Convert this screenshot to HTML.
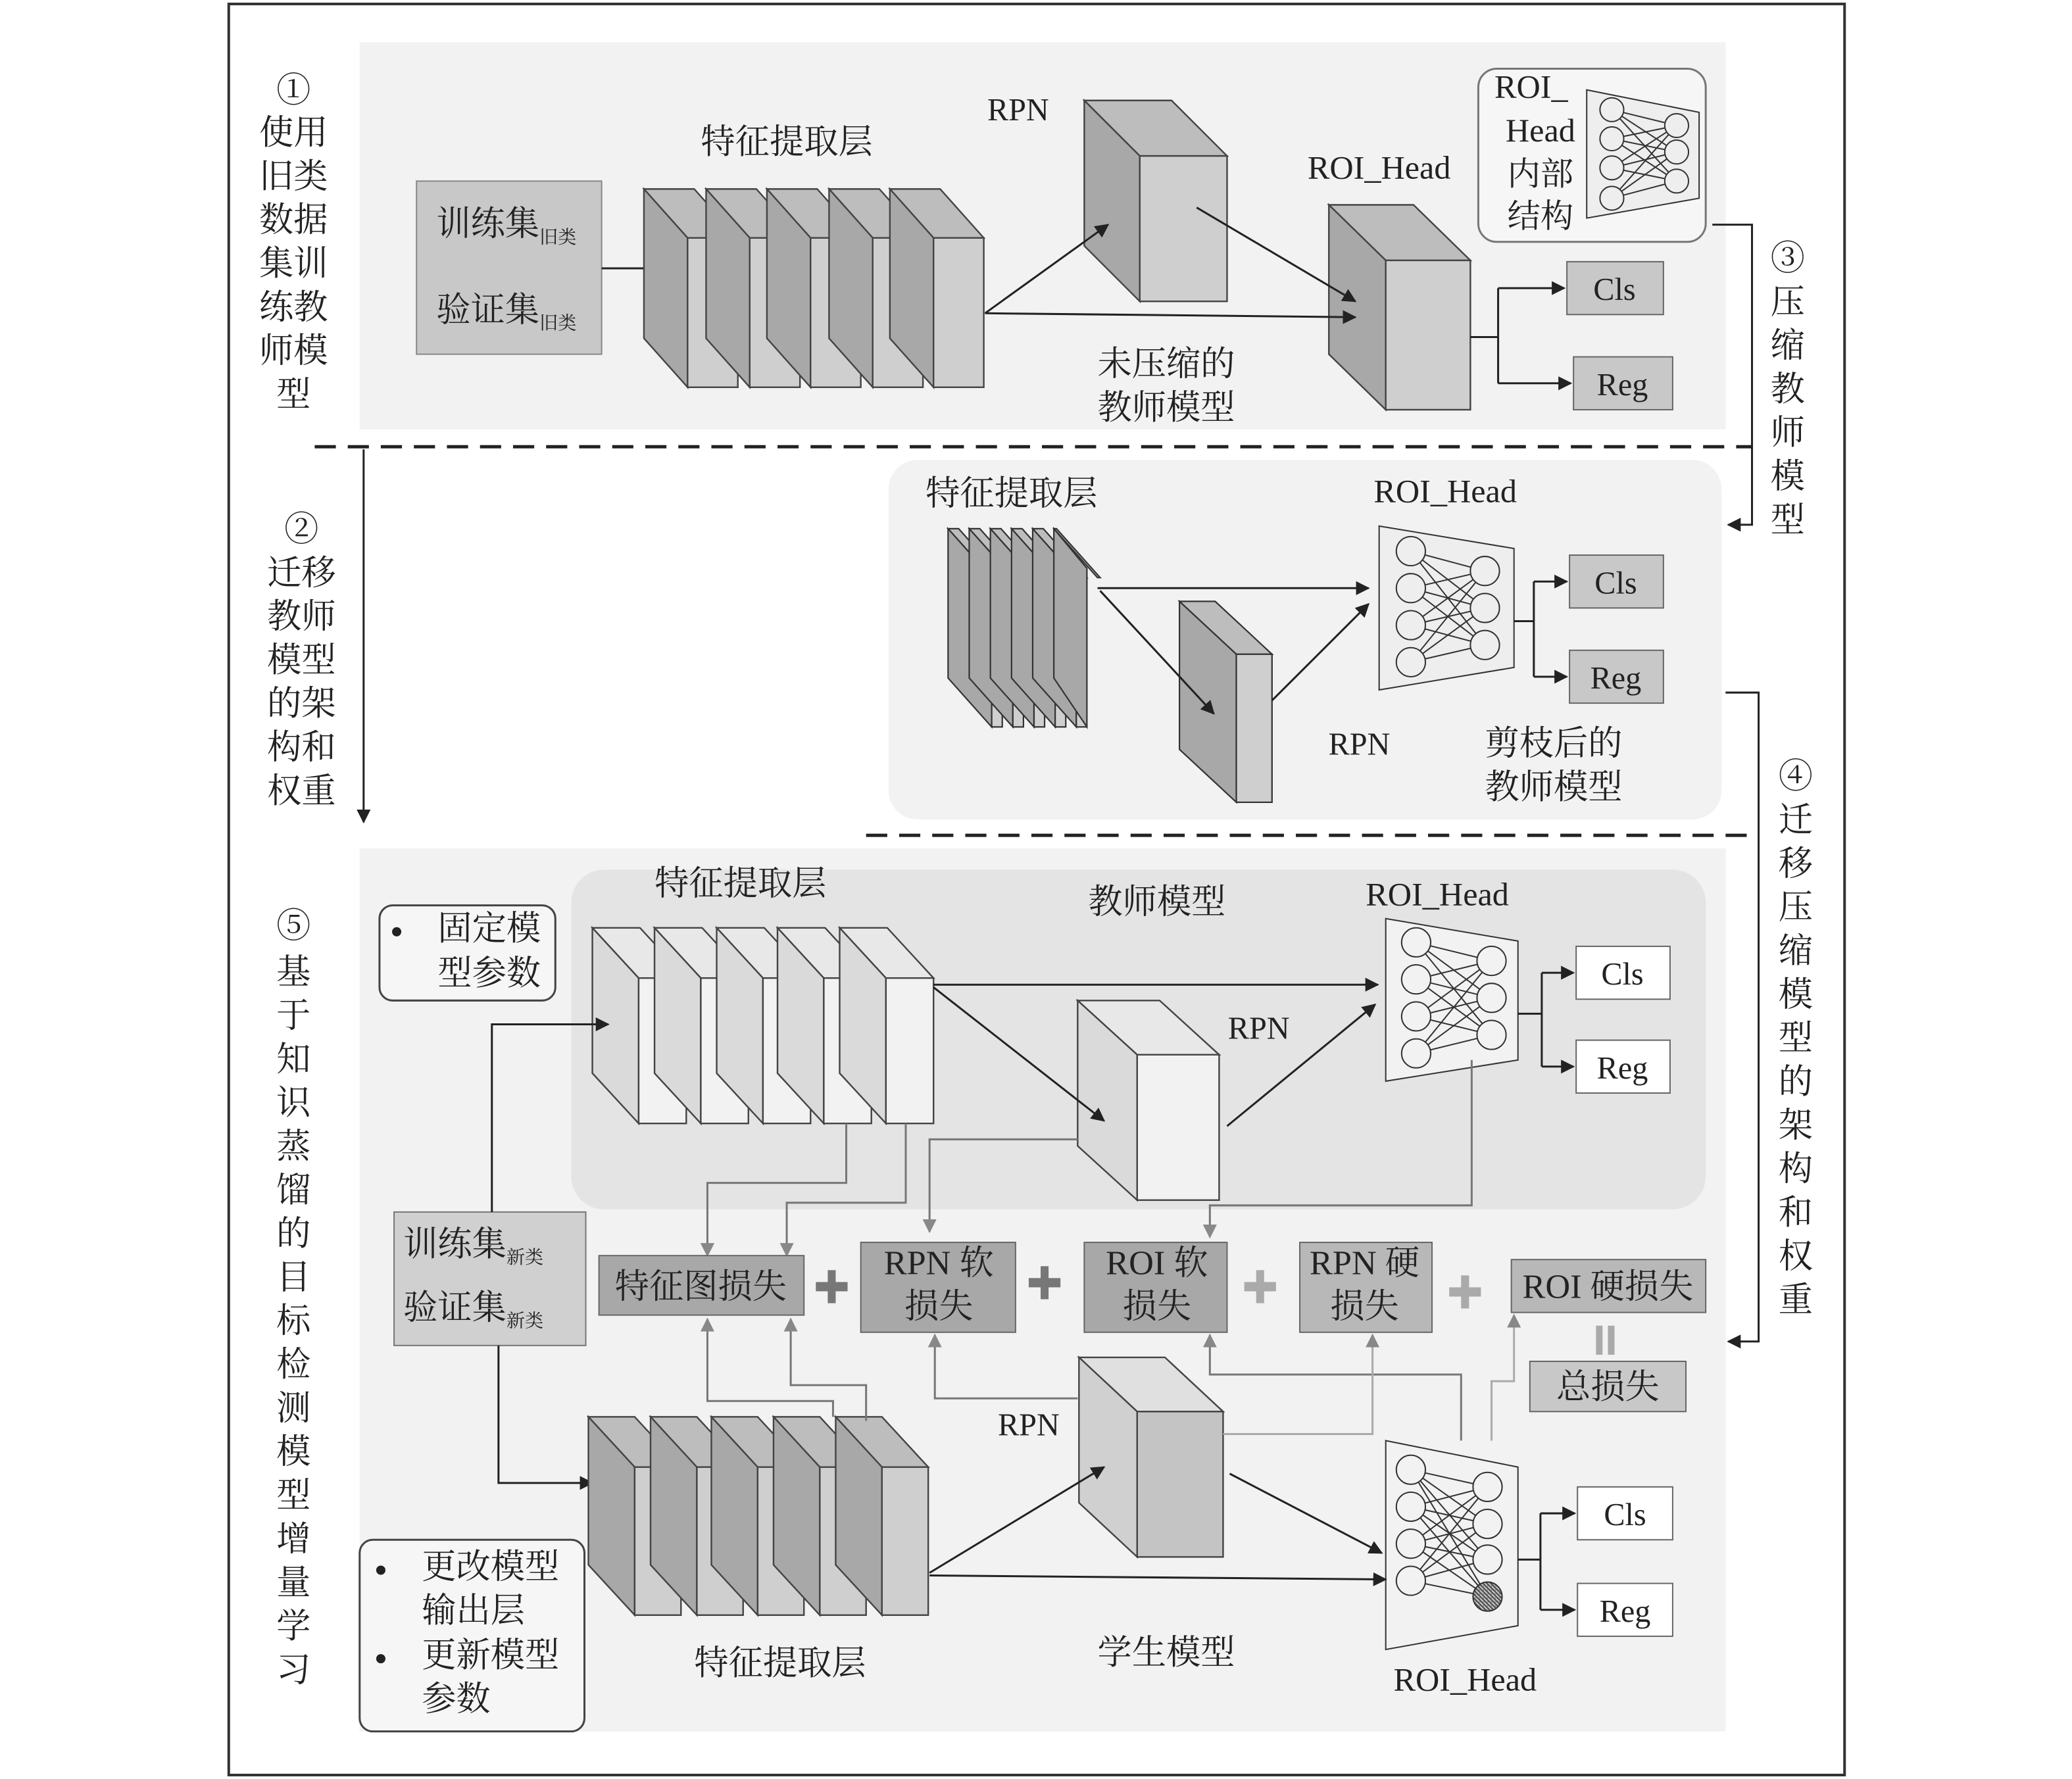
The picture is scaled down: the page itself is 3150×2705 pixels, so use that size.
<!DOCTYPE html>
<html><head><meta charset="utf-8"><style>
html,body{margin:0;padding:0;background:#fff;}
svg{display:block;}
text{font-family:"Liberation Serif","Noto Serif CJK SC",serif;fill:#222;}
</style></head><body>
<svg width="3150" height="2705" viewBox="0 0 1567 1346" preserveAspectRatio="none" xmlns="http://www.w3.org/2000/svg">
<defs>
<marker id="a" viewBox="0 0 10 10" refX="9" refY="5" markerWidth="7" markerHeight="7" orient="auto"><path d="M0,0L10,5L0,10z" fill="#222"/></marker>
<marker id="g" viewBox="0 0 10 10" refX="9" refY="5" markerWidth="7" markerHeight="7" orient="auto"><path d="M0,0L10,5L0,10z" fill="#888"/></marker>
<pattern id="h" width="3" height="3" patternUnits="userSpaceOnUse"><rect width="3" height="3" fill="#555"/><path d="M0,0L3,3" stroke="#ddd" stroke-width="0.8"/></pattern>
</defs>
<rect x="173" y="3" width="1222" height="1340" fill="#fff" stroke="#333" stroke-width="2"/>
<rect x="272" y="32" width="1033" height="293" fill="#f2f2f2"/>
<rect x="672" y="348" width="630" height="272" rx="22" fill="#f2f2f2"/>
<rect x="272" y="642" width="1033" height="668" fill="#f2f2f2"/>
<rect x="432" y="658" width="858" height="257" rx="25" fill="#e4e4e4"/>
<line x1="238" y1="338" x2="1325" y2="338" stroke="#222" stroke-width="2.5" stroke-dasharray="16,9"/>
<line x1="655" y1="632" x2="1325" y2="632" stroke="#222" stroke-width="2.5" stroke-dasharray="16,9"/>

<g font-size="26" text-anchor="middle">
<text x="222" y="77">①</text><text x="222" y="109">使用</text><text x="222" y="142">旧类</text><text x="222" y="175">数据</text><text x="222" y="208">集训</text><text x="222" y="241">练教</text><text x="222" y="274">师模</text><text x="222" y="307">型</text>
<text x="228" y="409">②</text><text x="228" y="442">迁移</text><text x="228" y="475">教师</text><text x="228" y="508">模型</text><text x="228" y="541">的架</text><text x="228" y="574">构和</text><text x="228" y="607">权重</text>
<text x="222" y="709">⑤</text><text x="222" y="744">基</text><text x="222" y="777">于</text><text x="222" y="810">知</text><text x="222" y="843">识</text><text x="222" y="876">蒸</text><text x="222" y="909">馏</text><text x="222" y="942">的</text><text x="222" y="975">目</text><text x="222" y="1008">标</text><text x="222" y="1041">检</text><text x="222" y="1074">测</text><text x="222" y="1107">模</text><text x="222" y="1140">型</text><text x="222" y="1173">增</text><text x="222" y="1206">量</text><text x="222" y="1239">学</text><text x="222" y="1272">习</text>
<text x="1352" y="204">③</text><text x="1352" y="237">压</text><text x="1352" y="270">缩</text><text x="1352" y="303">教</text><text x="1352" y="336">师</text><text x="1352" y="369">模</text><text x="1352" y="402">型</text>
<text x="1358" y="596">④</text><text x="1358" y="629">迁</text><text x="1358" y="662">移</text><text x="1358" y="695">压</text><text x="1358" y="728">缩</text><text x="1358" y="761">模</text><text x="1358" y="794">型</text><text x="1358" y="827">的</text><text x="1358" y="860">架</text><text x="1358" y="893">构</text><text x="1358" y="926">和</text><text x="1358" y="959">权</text><text x="1358" y="992">重</text>
</g>
<g stroke="#222" stroke-width="1.5" fill="none">
<line x1="275" y1="340" x2="275" y2="622" marker-end="url(#a)"/>
<polyline points="1295,170 1325,170 1325,397 1307,397" marker-end="url(#a)"/>
<polyline points="1305,524 1330,524 1330,1015 1307,1015" marker-end="url(#a)"/>
</g>

<!-- Panel 1 -->
<rect x="315" y="137" width="140" height="131" fill="#c8c8c8" stroke="#888"/>
<text x="330" y="178" font-size="26">训练集<tspan font-size="14" dy="6">旧类</tspan></text>
<text x="330" y="243" font-size="26">验证集<tspan font-size="14" dy="6">旧类</tspan></text>
<line x1="455" y1="203" x2="505" y2="203" stroke="#222" stroke-width="1.5" marker-end="url(#a)"/>
<text x="595" y="116" font-size="26" text-anchor="middle">特征提取层</text>
<g stroke="#444" stroke-width="1.2">
<polygon points="487,143 525,143 558,180 520,180" fill="#bdbdbd"/><polygon points="487,143 520,180 520,293 487,256" fill="#a8a8a8"/><rect x="520" y="180" width="38" height="113" fill="#cfcfcf"/>
<polygon points="534,143 572,143 605,180 567,180" fill="#bdbdbd"/><polygon points="534,143 567,180 567,293 534,256" fill="#a8a8a8"/><rect x="567" y="180" width="38" height="113" fill="#cfcfcf"/>
<polygon points="580,143 618,143 651,180 613,180" fill="#bdbdbd"/><polygon points="580,143 613,180 613,293 580,256" fill="#a8a8a8"/><rect x="613" y="180" width="38" height="113" fill="#cfcfcf"/>
<polygon points="627,143 665,143 698,180 660,180" fill="#bdbdbd"/><polygon points="627,143 660,180 660,293 627,256" fill="#a8a8a8"/><rect x="660" y="180" width="38" height="113" fill="#cfcfcf"/>
<polygon points="673,143 711,143 744,180 706,180" fill="#bdbdbd"/><polygon points="673,143 706,180 706,293 673,256" fill="#a8a8a8"/><rect x="706" y="180" width="38" height="113" fill="#cfcfcf"/>
<polygon points="820,76 886,76 928,118 862,118" fill="#bdbdbd"/><polygon points="820,76 862,118 862,228 820,186" fill="#a8a8a8"/><rect x="862" y="118" width="66" height="110" fill="#cfcfcf"/>
<polygon points="1005,155 1069,155 1112,197 1048,197" fill="#bdbdbd"/><polygon points="1005,155 1048,197 1048,310 1005,268" fill="#a8a8a8"/><rect x="1048" y="197" width="64" height="113" fill="#cfcfcf"/>
</g>
<text x="770" y="91" font-size="24" text-anchor="middle">RPN</text>
<text x="1043" y="135" font-size="25" text-anchor="middle">ROI_Head</text>
<g stroke="#222" stroke-width="1.5" fill="none">
<line x1="745" y1="237" x2="838" y2="170" marker-end="url(#a)"/>
<line x1="745" y1="237" x2="1025" y2="240" marker-end="url(#a)"/>
<line x1="905" y1="157" x2="1025" y2="228" marker-end="url(#a)"/>
<polyline points="1112,255 1133,255"/><line x1="1133" y1="218" x2="1133" y2="290"/>
<line x1="1133" y1="218" x2="1183" y2="218" marker-end="url(#a)"/>
<line x1="1133" y1="290" x2="1188" y2="290" marker-end="url(#a)"/>
</g>
<rect x="1185" y="198" width="73" height="40" fill="#c8c8c8" stroke="#666"/><text x="1221" y="227" font-size="24" text-anchor="middle">Cls</text>
<rect x="1190" y="270" width="75" height="40" fill="#c8c8c8" stroke="#666"/><text x="1227" y="299" font-size="24" text-anchor="middle">Reg</text>
<text x="882" y="284" font-size="26" text-anchor="middle">未压缩的</text><text x="882" y="317" font-size="26" text-anchor="middle">教师模型</text>
<rect x="1118" y="52" width="172" height="131" rx="14" fill="#f6f6f6" stroke="#777" stroke-width="1.5"/>
<g font-size="25" text-anchor="middle"><text x="1158" y="74">ROI_</text><text x="1165" y="107">Head</text><text x="1165" y="140">内部</text><text x="1165" y="172">结构</text></g>

<g stroke="#333" stroke-width="1" fill="none">
<polygon points="1200,68 1285,85 1285,150 1200,165" fill="#eee"/>
<path d="M1219,83L1268,95M1219,83L1268,115M1219,83L1268,137M1219,105L1268,95M1219,105L1268,115M1219,105L1268,137M1219,127L1268,95M1219,127L1268,115M1219,127L1268,137M1219,150L1268,95M1219,150L1268,115M1219,150L1268,137"/>
<g fill="#eee"><circle cx="1219" cy="83" r="9"/><circle cx="1219" cy="105" r="9"/><circle cx="1219" cy="127" r="9"/><circle cx="1219" cy="150" r="9"/><circle cx="1268" cy="95" r="9"/><circle cx="1268" cy="115" r="9"/><circle cx="1268" cy="137" r="9"/></g>
</g>

<!-- Panel 2 -->
<text x="765" y="382" font-size="26" text-anchor="middle">特征提取层</text>
<text x="1093" y="380" font-size="25" text-anchor="middle">ROI_Head</text>
<g stroke="#333" stroke-width="1.1">
<polygon points="717,400 750,437 758,437 725,400" fill="#bdbdbd"/><polygon points="717,400 750,437 750,550 717,513" fill="#a8a8a8"/><rect x="750" y="437" width="8" height="113" fill="#cfcfcf"/>
<polygon points="733,400 766,437 774,437 741,400" fill="#bdbdbd"/><polygon points="733,400 766,437 766,550 733,513" fill="#a8a8a8"/><rect x="766" y="437" width="8" height="113" fill="#cfcfcf"/>
<polygon points="749,400 782,437 790,437 757,400" fill="#bdbdbd"/><polygon points="749,400 782,437 782,550 749,513" fill="#a8a8a8"/><rect x="782" y="437" width="8" height="113" fill="#cfcfcf"/>
<polygon points="765,400 798,437 806,437 773,400" fill="#bdbdbd"/><polygon points="765,400 798,437 798,550 765,513" fill="#a8a8a8"/><rect x="798" y="437" width="8" height="113" fill="#cfcfcf"/>
<polygon points="781,400 814,437 822,437 789,400" fill="#bdbdbd"/><polygon points="781,400 814,437 814,550 781,513" fill="#a8a8a8"/><rect x="814" y="437" width="8" height="113" fill="#cfcfcf"/>
<polygon points="797,400 830,437 832,437 799,400" fill="#bdbdbd"/><polygon points="797,400 822,430 822,550 797,513" fill="#a8a8a8"/>
<polygon points="892,455 919,455 962,495 935,495" fill="#bdbdbd"/><polygon points="892,455 935,495 935,607 892,567" fill="#a8a8a8"/><rect x="935" y="495" width="27" height="112" fill="#cfcfcf"/>
</g>
<g stroke="#333" stroke-width="1" fill="none">
<polygon points="1043,398 1145,415 1145,505 1043,522" fill="#eee"/>
<path d="M1067,417L1123,432M1067,417L1123,460M1067,417L1123,488M1067,445L1123,432M1067,445L1123,460M1067,445L1123,488M1067,473L1123,432M1067,473L1123,460M1067,473L1123,488M1067,501L1123,432M1067,501L1123,460M1067,501L1123,488"/>
<g fill="#eee"><circle cx="1067" cy="417" r="11"/><circle cx="1067" cy="445" r="11"/><circle cx="1067" cy="473" r="11"/><circle cx="1067" cy="501" r="11"/><circle cx="1123" cy="432" r="11"/><circle cx="1123" cy="460" r="11"/><circle cx="1123" cy="488" r="11"/></g>
</g>
<g stroke="#222" stroke-width="1.5" fill="none">
<line x1="830" y1="445" x2="1035" y2="445" marker-end="url(#a)"/>
<line x1="832" y1="447" x2="918" y2="540" marker-end="url(#a)"/>
<line x1="962" y1="530" x2="1035" y2="457" marker-end="url(#a)"/>
<line x1="1145" y1="470" x2="1160" y2="470"/><line x1="1160" y1="440" x2="1160" y2="512"/>
<line x1="1160" y1="440" x2="1185" y2="440" marker-end="url(#a)"/>
<line x1="1160" y1="512" x2="1185" y2="512" marker-end="url(#a)"/>
</g>
<rect x="1187" y="420" width="71" height="40" fill="#c8c8c8" stroke="#666"/><text x="1222" y="449" font-size="24" text-anchor="middle">Cls</text>
<rect x="1187" y="492" width="71" height="40" fill="#c8c8c8" stroke="#666"/><text x="1222" y="521" font-size="24" text-anchor="middle">Reg</text>
<text x="1028" y="571" font-size="24" text-anchor="middle">RPN</text>
<text x="1175" y="571" font-size="26" text-anchor="middle">剪枝后的</text><text x="1175" y="604" font-size="26" text-anchor="middle">教师模型</text>

<!-- Panel 3 teacher -->
<rect x="287" y="685" width="133" height="72" rx="10" fill="#f6f6f6" stroke="#444" stroke-width="1.5"/>
<circle cx="300" cy="705" r="3.5" fill="#222"/>
<text x="370" y="711" font-size="26" text-anchor="middle">固定模</text><text x="370" y="745" font-size="26" text-anchor="middle">型参数</text>
<text x="560" y="677" font-size="26" text-anchor="middle">特征提取层</text>
<text x="875" y="691" font-size="26" text-anchor="middle">教师模型</text>
<text x="1087" y="685" font-size="25" text-anchor="middle">ROI_Head</text>
<text x="952" y="786" font-size="24" text-anchor="middle">RPN</text>
<g stroke="#444" stroke-width="1.2">
<polygon points="448,702 484,702 519,740 483,740" fill="#e8e8e8"/><polygon points="448,702 483,740 483,850 448,812" fill="#dadada"/><rect x="483" y="740" width="36" height="110" fill="#f2f2f2"/>
<polygon points="495,702 531,702 566,740 530,740" fill="#e8e8e8"/><polygon points="495,702 530,740 530,850 495,812" fill="#dadada"/><rect x="530" y="740" width="36" height="110" fill="#f2f2f2"/>
<polygon points="542,702 578,702 613,740 577,740" fill="#e8e8e8"/><polygon points="542,702 577,740 577,850 542,812" fill="#dadada"/><rect x="577" y="740" width="36" height="110" fill="#f2f2f2"/>
<polygon points="588,702 624,702 659,740 623,740" fill="#e8e8e8"/><polygon points="588,702 623,740 623,850 588,812" fill="#dadada"/><rect x="623" y="740" width="36" height="110" fill="#f2f2f2"/>
<polygon points="635,702 671,702 706,740 670,740" fill="#e8e8e8"/><polygon points="635,702 670,740 670,850 635,812" fill="#dadada"/><rect x="670" y="740" width="36" height="110" fill="#f2f2f2"/>
<polygon points="815,757 877,757 922,798 860,798" fill="#e8e8e8"/><polygon points="815,757 860,798 860,908 815,867" fill="#dadada"/><rect x="860" y="798" width="62" height="110" fill="#f2f2f2"/>
</g>
<g stroke="#333" stroke-width="1" fill="none">
<polygon points="1048,695 1148,712 1148,802 1048,818" fill="#f2f2f2"/>
<path d="M1071,713L1128,727M1071,713L1128,755M1071,713L1128,783M1071,741L1128,727M1071,741L1128,755M1071,741L1128,783M1071,769L1128,727M1071,769L1128,755M1071,769L1128,783M1071,797L1128,727M1071,797L1128,755M1071,797L1128,783"/>
<g fill="#f2f2f2"><circle cx="1071" cy="713" r="11"/><circle cx="1071" cy="741" r="11"/><circle cx="1071" cy="769" r="11"/><circle cx="1071" cy="797" r="11"/><circle cx="1128" cy="727" r="11"/><circle cx="1128" cy="755" r="11"/><circle cx="1128" cy="783" r="11"/></g>
</g>
<g stroke="#222" stroke-width="1.5" fill="none">
<line x1="706" y1="745" x2="1042" y2="745" marker-end="url(#a)"/>
<line x1="706" y1="747" x2="835" y2="848" marker-end="url(#a)"/>
<line x1="928" y1="852" x2="1040" y2="760" marker-end="url(#a)"/>
<line x1="1148" y1="767" x2="1166" y2="767"/><line x1="1166" y1="736" x2="1166" y2="807"/>
<line x1="1166" y1="736" x2="1190" y2="736" marker-end="url(#a)"/>
<line x1="1166" y1="807" x2="1190" y2="807" marker-end="url(#a)"/>
</g>
<rect x="1192" y="716" width="71" height="40" fill="#fff" stroke="#666"/><text x="1227" y="745" font-size="24" text-anchor="middle">Cls</text>
<rect x="1192" y="787" width="71" height="40" fill="#fff" stroke="#666"/><text x="1227" y="816" font-size="24" text-anchor="middle">Reg</text>
<g stroke="#777" stroke-width="1.5" fill="none">
<polyline points="640,850 640,895 535,895 535,950" marker-end="url(#g)"/>
<polyline points="685,850 685,910 595,910 595,950" marker-end="url(#g)"/>
<polyline points="815,862 703,862 703,932" marker-end="url(#g)"/>
<polyline points="1113,802 1113,912 915,912 915,936" marker-end="url(#g)"/>
</g>

<rect x="298" y="917" width="145" height="101" fill="#d0d0d0" stroke="#777"/>
<text x="305" y="950" font-size="26">训练集<tspan font-size="14" dy="6">新类</tspan></text>
<text x="305" y="998" font-size="26">验证集<tspan font-size="14" dy="6">新类</tspan></text>
<g stroke="#222" stroke-width="1.5" fill="none">
<polyline points="372,917 372,775 460,775" marker-end="url(#a)"/>
<polyline points="377,1018 377,1122 448,1122" marker-end="url(#a)"/>
</g>

<g stroke="#666" stroke-width="1">
<rect x="453" y="950" width="155" height="45" fill="#a8a8a8"/>
<rect x="651" y="940" width="117" height="68" fill="#a8a8a8"/>
<rect x="820" y="940" width="108" height="68" fill="#a8a8a8"/>
<rect x="983" y="940" width="100" height="68" fill="#b8b8b8"/>
<rect x="1143" y="953" width="147" height="40" fill="#b8b8b8"/>
<rect x="1157" y="1030" width="118" height="38" fill="#c8c8c8"/>
</g>
<g font-size="26" text-anchor="middle">
<text x="530" y="982">特征图损失</text>
<text x="710" y="964">RPN 软</text><text x="710" y="997">损失</text>
<text x="875" y="964">ROI 软</text><text x="875" y="997">损失</text>
<text x="1032" y="964">RPN 硬</text><text x="1032" y="997">损失</text>
<text x="1216" y="982">ROI 硬损失</text>
<text x="1216" y="1058">总损失</text>
</g>
<g fill="#777"><rect x="617" y="970" width="24" height="7"/><rect x="626" y="961" width="6" height="25"/>
<rect x="778" y="967" width="24" height="7"/><rect x="787" y="958" width="6" height="25"/></g>
<g fill="#aaa"><rect x="941" y="970" width="24" height="7"/><rect x="950" y="961" width="6" height="25"/>
<rect x="1096" y="974" width="24" height="7"/><rect x="1105" y="965" width="6" height="25"/>
<rect x="1207" y="1003" width="5" height="22"/><rect x="1216" y="1003" width="5" height="22"/></g>

<g stroke="#444" stroke-width="1.2">
<polygon points="445,1072 480,1072 515,1110 480,1110" fill="#bdbdbd"/><polygon points="445,1072 480,1110 480,1222 445,1184" fill="#a8a8a8"/><rect x="480" y="1110" width="35" height="112" fill="#cfcfcf"/>
<polygon points="492,1072 527,1072 562,1110 527,1110" fill="#bdbdbd"/><polygon points="492,1072 527,1110 527,1222 492,1184" fill="#a8a8a8"/><rect x="527" y="1110" width="35" height="112" fill="#cfcfcf"/>
<polygon points="538,1072 573,1072 608,1110 573,1110" fill="#bdbdbd"/><polygon points="538,1072 573,1110 573,1222 538,1184" fill="#a8a8a8"/><rect x="573" y="1110" width="35" height="112" fill="#cfcfcf"/>
<polygon points="585,1072 620,1072 655,1110 620,1110" fill="#bdbdbd"/><polygon points="585,1072 620,1110 620,1222 585,1184" fill="#a8a8a8"/><rect x="620" y="1110" width="35" height="112" fill="#cfcfcf"/>
<polygon points="632,1072 667,1072 702,1110 667,1110" fill="#bdbdbd"/><polygon points="632,1072 667,1110 667,1222 632,1184" fill="#a8a8a8"/><rect x="667" y="1110" width="35" height="112" fill="#cfcfcf"/>
<polygon points="816,1027 881,1027 925,1068 860,1068" fill="#e0e0e0"/><polygon points="816,1027 860,1068 860,1178 816,1137" fill="#d0d0d0"/><rect x="860" y="1068" width="65" height="110" fill="#c4c4c4"/>
</g>
<g stroke="#333" stroke-width="1" fill="none">
<polygon points="1048,1090 1148,1110 1148,1230 1048,1248" fill="#f2f2f2"/>
<path d="M1067,1112L1125,1125M1067,1112L1125,1153M1067,1112L1125,1180M1067,1112L1125,1208M1067,1140L1125,1125M1067,1140L1125,1153M1067,1140L1125,1180M1067,1140L1125,1208M1067,1168L1125,1125M1067,1168L1125,1153M1067,1168L1125,1180M1067,1168L1125,1208M1067,1196L1125,1125M1067,1196L1125,1153M1067,1196L1125,1180M1067,1196L1125,1208"/>
<g fill="#f2f2f2"><circle cx="1067" cy="1112" r="11"/><circle cx="1067" cy="1140" r="11"/><circle cx="1067" cy="1168" r="11"/><circle cx="1067" cy="1196" r="11"/><circle cx="1125" cy="1125" r="11"/><circle cx="1125" cy="1153" r="11"/><circle cx="1125" cy="1180" r="11"/></g>
<circle cx="1125" cy="1208" r="11" fill="url(#h)"/>
</g>
<text x="590" y="1267" font-size="26" text-anchor="middle">特征提取层</text>
<text x="778" y="1086" font-size="24" text-anchor="middle">RPN</text>
<text x="882" y="1259" font-size="26" text-anchor="middle">学生模型</text>
<text x="1108" y="1279" font-size="25" text-anchor="middle">ROI_Head</text>
<g stroke="#222" stroke-width="1.5" fill="none">
<line x1="703" y1="1190" x2="835" y2="1110" marker-end="url(#a)"/>
<line x1="703" y1="1192" x2="1048" y2="1195" marker-end="url(#a)"/>
<line x1="930" y1="1115" x2="1045" y2="1175" marker-end="url(#a)"/>
<line x1="1148" y1="1180" x2="1165" y2="1180"/><line x1="1165" y1="1145" x2="1165" y2="1218"/>
<line x1="1165" y1="1145" x2="1191" y2="1145" marker-end="url(#a)"/>
<line x1="1165" y1="1218" x2="1191" y2="1218" marker-end="url(#a)"/>
</g>
<rect x="1193" y="1125" width="72" height="40" fill="#fff" stroke="#666"/><text x="1229" y="1154" font-size="24" text-anchor="middle">Cls</text>
<rect x="1193" y="1198" width="72" height="40" fill="#fff" stroke="#666"/><text x="1229" y="1227" font-size="24" text-anchor="middle">Reg</text>
<g stroke="#777" stroke-width="1.5" fill="none">
<polyline points="655,1075 655,1048 598,1048 598,998" marker-end="url(#g)"/>
<polyline points="630,1072 630,1060 535,1060 535,998" marker-end="url(#g)"/>
<polyline points="815,1058 707,1058 707,1010" marker-end="url(#g)"/>
<polyline points="1105,1090 1105,1040 915,1040 915,1010" marker-end="url(#g)"/>
</g>
<g stroke="#aaa" stroke-width="1.5" fill="none">
<polyline points="925,1085 1038,1085 1038,1010" marker-end="url(#g)"/>
<polyline points="1128,1090 1128,1045 1145,1045 1145,995" marker-end="url(#g)"/>
</g>
<rect x="272" y="1165" width="170" height="145" rx="10" fill="#f6f6f6" stroke="#444" stroke-width="1.5"/>
<circle cx="288" cy="1188" r="3.5" fill="#222"/><circle cx="288" cy="1255" r="3.5" fill="#222"/>
<text x="319" y="1194" font-size="26">更改模型</text><text x="319" y="1227" font-size="26">输出层</text>
<text x="319" y="1261" font-size="26">更新模型</text><text x="319" y="1294" font-size="26">参数</text>
</svg>
</body></html>
